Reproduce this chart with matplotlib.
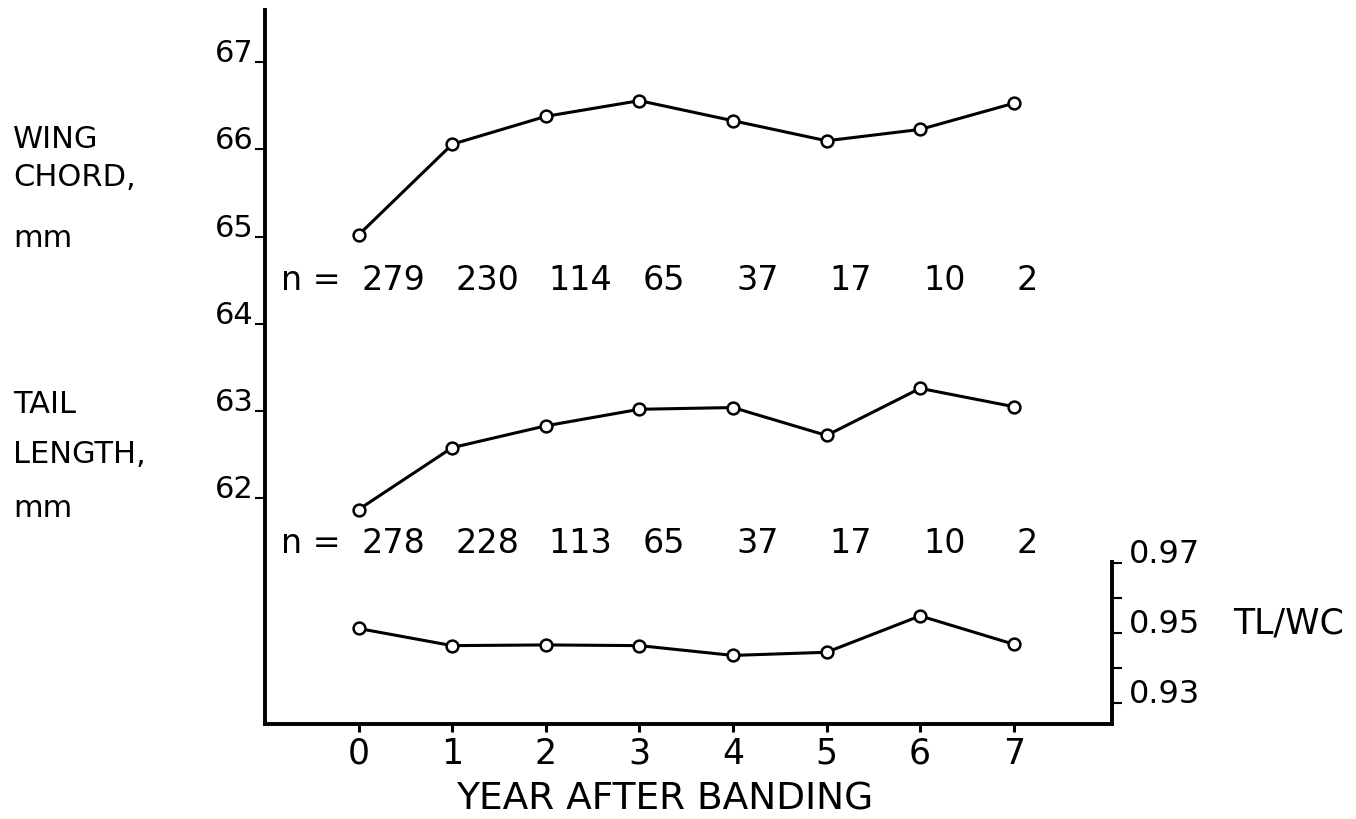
import matplotlib.pyplot as plt

plt.rcParams["font.family"] = ["DejaVu Sans"]

# data
years = [0, 1, 2, 3, 4, 5, 6, 7]
wing_chord = [65.02, 66.06, 66.38, 66.56, 66.33, 66.10, 66.23, 66.53]
tail_length = [61.87, 62.58, 62.83, 63.02, 63.04, 62.72, 63.26, 63.05]
tl_wc = [0.9513, 0.9464, 0.9466, 0.9464, 0.9436, 0.9445, 0.9549, 0.9468]
wing_n = [279, 230, 114, 65, 37, 17, 10, 2]
tail_n = [278, 228, 113, 65, 37, 17, 10, 2]
mm_ticks = [62, 63, 64, 65, 66, 67]
ratio_ticks = [0.93, 0.95, 0.97]
ratio_minor = [0.94, 0.96]

W, H = 1356, 819
fig = plt.figure(figsize=(W / 100, H / 100), dpi=100)


def fx(px):
    return px / W


def fy(py):
    return 1 - py / H


# main axes: mm scale on the left
ax = fig.add_axes([fx(265), fy(724), fx(1112) - fx(265), fy(10) - fy(724)])
ax.set_xlim(-1.0, 8.05)
ax.set_ylim(59.41, 67.6)
for side in ("top", "right"):
    ax.spines[side].set_visible(False)
for side in ("left", "bottom"):
    ax.spines[side].set_linewidth(2.8)

ax.set_xticks(years, [str(y) for y in years], fontsize=25)
ax.tick_params(axis="x", length=6, width=2.2, pad=3)
ax.set_yticks(mm_ticks, [str(t) for t in mm_ticks], fontsize=22, va="baseline")
ax.tick_params(axis="y", length=7, width=1.5, pad=1)

line_kw = dict(color="black", lw=2.2, marker="o", ms=8.5, mfc="white",
               mec="black", mew=1.8, zorder=3)
ax.plot(years, wing_chord, **line_kw)
ax.plot(years, tail_length, **line_kw)

ax.set_xlabel("YEAR AFTER BANDING", fontsize=27)
ax.xaxis.set_label_coords(0.472, -0.08)

# sample sizes under each curve
for row_y, counts in ((64.385, wing_n), (61.37, tail_n)):
    ax.annotate("n =", (0, row_y), xytext=(-18, 0), textcoords="offset pixels",
                ha="right", va="baseline", fontsize=24)
    for yr, n in zip(years, counts):
        ax.annotate(str(n), (yr, row_y), xytext=(3, 0), textcoords="offset pixels",
                    ha="left", va="baseline", fontsize=24)

# ratio axes: small scale on the right, bottom part only
ax2 = fig.add_axes([fx(265), fy(724), fx(1112) - fx(265), fy(562) - fy(724)])
ax2.patch.set_visible(False)
ax2.set_xlim(ax.get_xlim())
ax2.set_ylim(0.924, 0.9703)
for side in ("top", "left", "bottom"):
    ax2.spines[side].set_visible(False)
ax2.spines["right"].set_linewidth(2.8)
ax2.tick_params(axis="x", bottom=False, labelbottom=False)
ax2.yaxis.tick_right()
ax2.set_yticks(ratio_ticks, [f"{t:.2f}" for t in ratio_ticks], fontsize=23,
               va="baseline")
ax2.set_yticks(ratio_minor, minor=True)
ax2.tick_params(axis="y", which="both", length=7, width=1.5, pad=5)
ax2.plot(years, tl_wc, **line_kw)
ax2.text(1.143, 0.95, "TL/WC", transform=ax2.get_yaxis_transform(),
         fontsize=25, va="baseline", ha="left")

# left side labels
for txt, py in (("WING", 148), ("CHORD,", 186), ("mm", 247),
                ("TAIL", 413), ("LENGTH,", 463), ("mm", 517)):
    fig.text(fx(13), fy(py), txt, fontsize=22, va="baseline", ha="left")

fig.savefig("out.png", dpi=100)
